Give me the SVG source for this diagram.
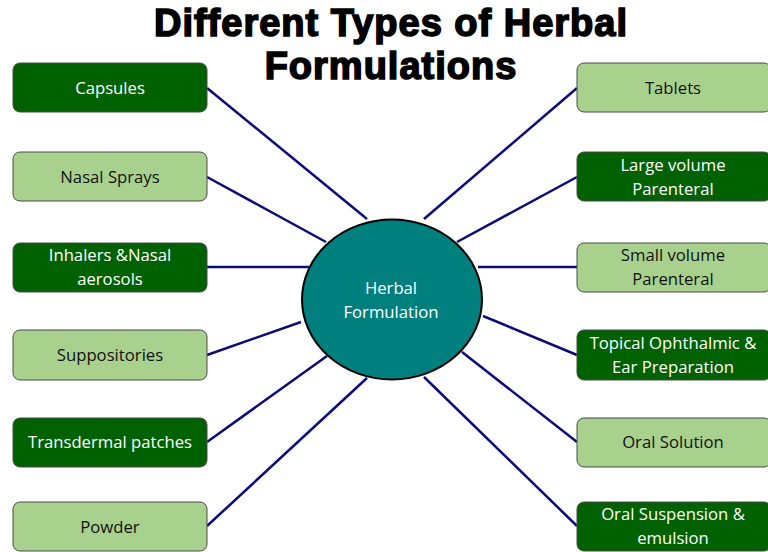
<svg xmlns="http://www.w3.org/2000/svg" width="768" height="552" viewBox="0 0 768 552">
<style>
.box{stroke:#4a4a4a;stroke-width:1}
.dark{fill:#006100}
.light{fill:#a9d18e}
.t{font-family:"Open Sans","Noto Sans",sans-serif;font-size:16.7px;text-anchor:middle}
.tw{fill:#ffffff}
.tb{fill:#111111}
.title{font-family:"Liberation Sans",Arial,sans-serif;font-weight:900;font-size:38px;letter-spacing:1px;text-anchor:middle;fill:#000;stroke:#000;stroke-width:1.6}
#connectors line{stroke:#0b0b78;stroke-width:2.5}
</style>
<rect width="768" height="552" fill="#fff"/>
<text class="title" x="391" y="36">Different Types of Herbal</text>
<text class="title" x="391" y="79">Formulations</text>
<g id="connectors">
<line x1="207" y1="88" x2="367" y2="219"/>
<line x1="207" y1="177" x2="326" y2="242"/>
<line x1="207" y1="267" x2="309" y2="267"/>
<line x1="207" y1="355" x2="301" y2="322"/>
<line x1="207" y1="442" x2="327" y2="356"/>
<line x1="207" y1="526" x2="367" y2="378"/>
<line x1="577" y1="88" x2="424" y2="219"/>
<line x1="577" y1="177" x2="457" y2="242"/>
<line x1="577" y1="267" x2="478" y2="267"/>
<line x1="577" y1="355" x2="483" y2="316"/>
<line x1="577" y1="442" x2="462" y2="352"/>
<line x1="577" y1="526" x2="424" y2="377"/>
</g>
<g id="center">
<ellipse cx="392" cy="299.5" rx="90" ry="80" fill="#007f7f" stroke="#000" stroke-width="2"/>
<text class="t tw" x="391" y="294">Herbal</text>
<text class="t tw" x="391" y="318">Formulation</text>
</g>
<g id="capsules"><rect class="box dark" x="13" y="63" width="194" height="49" rx="7"/><text class="t tw" x="110" y="94">Capsules</text></g>
<g id="nasal-sprays"><rect class="box light" x="13" y="152" width="194" height="49" rx="7"/><text class="t tb" x="110" y="183">Nasal Sprays</text></g>
<g id="inhalers"><rect class="box dark" x="13" y="243" width="194" height="49" rx="7"/><text class="t tw" x="110" y="261">Inhalers &amp;Nasal</text><text class="t tw" x="110" y="285">aerosols</text></g>
<g id="suppositories"><rect class="box light" x="13" y="330" width="194" height="50" rx="7"/><text class="t tb" x="110" y="361">Suppositories</text></g>
<g id="transdermal"><rect class="box dark" x="13" y="418" width="194" height="49" rx="7"/><text class="t tw" x="110" y="448">Transdermal patches</text></g>
<g id="powder"><rect class="box light" x="13" y="502" width="194" height="49" rx="7"/><text class="t tb" x="110" y="533">Powder</text></g>
<g id="tablets"><rect class="box light" x="577" y="63" width="194" height="49" rx="7"/><text class="t tb" x="673" y="94">Tablets</text></g>
<g id="large-volume"><rect class="box dark" x="577" y="152" width="194" height="49" rx="7"/><text class="t tw" x="673" y="171">Large volume</text><text class="t tw" x="673" y="195">Parenteral</text></g>
<g id="small-volume"><rect class="box light" x="577" y="243" width="194" height="49" rx="7"/><text class="t tb" x="673" y="261">Small volume</text><text class="t tb" x="673" y="285">Parenteral</text></g>
<g id="topical"><rect class="box dark" x="577" y="330" width="194" height="50" rx="7"/><text class="t tw" x="673" y="349">Topical Ophthalmic &amp;</text><text class="t tw" x="673" y="373">Ear Preparation</text></g>
<g id="oral-solution"><rect class="box light" x="577" y="418" width="194" height="49" rx="7"/><text class="t tb" x="673" y="448">Oral Solution</text></g>
<g id="oral-suspension"><rect class="box dark" x="577" y="502" width="194" height="49" rx="7"/><text class="t tw" x="673" y="520">Oral Suspension &amp;</text><text class="t tw" x="673" y="544">emulsion</text></g>
</svg>
